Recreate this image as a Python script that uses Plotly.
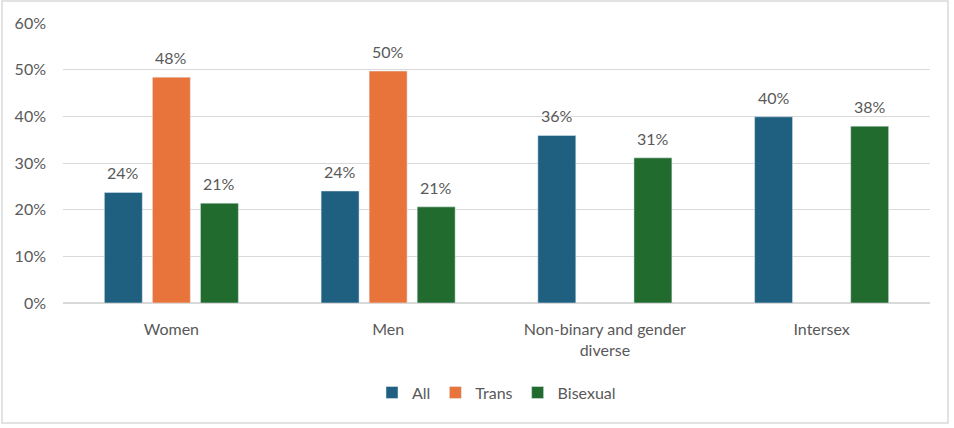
import plotly.graph_objects as go

categories = ["Women", "Men", "Non-binary and gender<br>diverse", "Intersex"]
all_vals = [0.237, 0.240, 0.359, 0.399]
trans_vals = [0.484, 0.497, None, None]
bisexual_vals = [0.214, 0.206, 0.311, 0.379]

series = [
    ("All", all_vals, "#1F5F80"),
    ("Trans", trans_vals, "#E8743B"),
    ("Bisexual", bisexual_vals, "#226B2E"),
]

label_font = dict(family="Lato", size=16, color="#595959")

fig = go.Figure()
for i, (name, vals, color) in enumerate(series):
    fig.add_trace(go.Bar(
        name=name, x=categories, y=vals, marker_color=color,
        offsetgroup=str(i),
    ))

# value labels placed above bars via annotations (library axes), offset per group
n = len(series)
group_w = 1 - 0.335
slot = group_w / n
annotations = []
for i, (name, vals, color) in enumerate(series):
    for j, (cat, v) in enumerate(zip(categories, vals)):
        if v is None:
            continue
        annotations.append(dict(
            x=j, y=v, xref="x", yref="y",
            text=f"{round(v * 100):d}%",
            showarrow=False, yanchor="bottom", yshift=8,
            xshift=(i - (n - 1) / 2) * slot * 216.75,
            font=label_font,
        ))

fig.update_layout(
    width=954, height=428,
    margin=dict(l=63, r=24, t=23, b=125),
    paper_bgcolor="white", plot_bgcolor="white",
    barmode="group", bargap=0.335, bargroupgap=0.21,
    font=label_font,
    showlegend=True,
    legend=dict(orientation="h", x=0.5, xanchor="center", y=-0.32, yanchor="middle",
                font=label_font, itemwidth=30, tracegroupgap=0),
    yaxis=dict(range=[0, 0.6], dtick=0.1, tickformat=".0%", showgrid=True,
               gridcolor="#D9D9D9", gridwidth=1, zeroline=True, zerolinecolor="#D9D9D9",
               ticks="", showline=False, ticklabelstandoff=16,
               tickfont=label_font),
    xaxis=dict(showline=True, linecolor="#D9D9D9", ticks="", tickfont=label_font,
               ticklabelstandoff=12),
    annotations=annotations,
    shapes=[dict(type="rect", xref="paper", yref="paper",
                 x0=-61 / 867, x1=1 + 18 / 867, y0=-120 / 280, y1=1 + 22 / 280,
                 line=dict(color="#D9D9D9", width=1.5))],
)

fig.write_html("out.html", config={"displayModeBar": False},
               post_script="document.body.style.margin='0';")
